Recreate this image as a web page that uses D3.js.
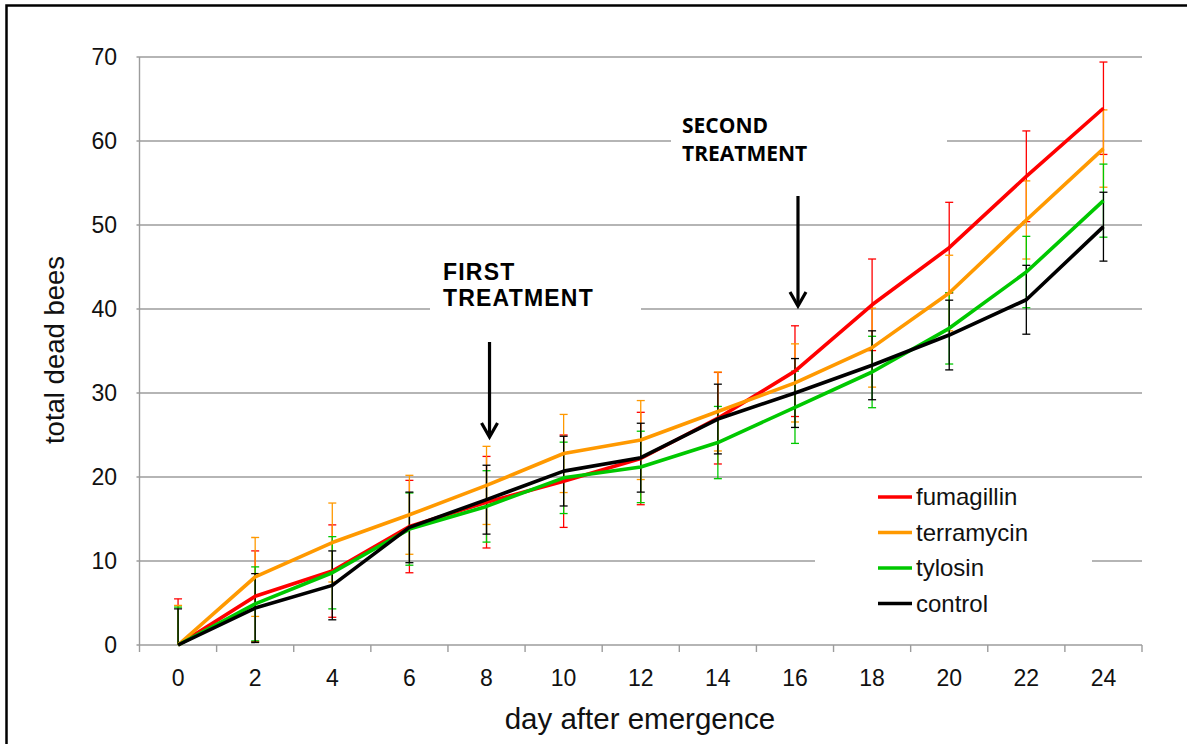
<!DOCTYPE html>
<html>
<head>
<meta charset="utf-8">
<script src="https://cdn.jsdelivr.net/npm/d3@7.9.0/dist/d3.min.js"></script>
<style>
  body { margin: 0; background: #fff; }
  svg { display: block; font-family: "Liberation Sans", Arial, sans-serif; }
</style>
</head>
<body>
<svg id="chart" width="1187" height="744"></svg>
<script>
// data
const days = [0, 2, 4, 6, 8, 10, 12, 14, 16, 18, 20, 22, 24];
const fumagillin = [0, 5.8, 8.8, 14.1, 17.0, 19.5, 22.2, 27.0, 32.6, 40.5, 47.3, 55.8, 63.9];
const terramycin = [0, 8.1, 12.2, 15.5, 19.0, 22.8, 24.4, 27.8, 31.2, 35.4, 41.9, 50.6, 59.1];
const tylosin = [0, 4.9, 8.6, 13.8, 16.5, 19.9, 21.2, 24.1, 28.3, 32.5, 37.7, 44.4, 52.9];
const control = [0, 4.4, 7.1, 14.0, 17.3, 20.7, 22.3, 26.9, 30.0, 33.3, 36.9, 41.1, 49.8];
const fumagillinErr = [5.5, 5.4, 5.5, 5.5, 5.45, 5.5, 5.5, 5.45, 5.4, 5.45, 5.4, 5.4, 5.5];
const terramycinErr = [4.7, 4.7, 4.7, 4.7, 4.65, 4.65, 4.7, 4.7, 4.65, 4.7, 4.5, 4.65, 4.6];
const tylosinErr = [4.5, 4.4, 4.3, 4.3, 4.25, 4.25, 4.25, 4.3, 4.3, 4.25, 4.25, 4.25, 4.35];
const controlErr = [4.3, 4.1, 4.1, 4.2, 4.1, 4.15, 4.1, 4.15, 4.1, 4.1, 4.15, 4.1, 4.1];
const yTicks = [0, 10, 20, 30, 40, 50, 60, 70];

const series = [
  { name: 'fumagillin', values: fumagillin, err: fumagillinErr, color: '#ff0000' },
  { name: 'terramycin', values: terramycin, err: terramycinErr, color: '#ff9900' },
  { name: 'tylosin', values: tylosin, err: tylosinErr, color: '#00c800' },
  { name: 'control', values: control, err: controlErr, color: '#000000' },
];

const svg = d3.select('#chart');
const plotLeft = 139.5, plotRight = 1142, plotTop = 57, plotBottom = 645;

const x = d3.scaleBand().domain(days).range([plotLeft, plotRight]).padding(0);
const cx = (d) => x(d) + x.bandwidth() / 2;
const y = d3.scaleLinear().domain([0, 70]).range([plotBottom, plotTop]);

// outer frame
svg.append('rect')
  .attr('x', 6.5).attr('y', 5.5)
  .attr('width', 1300).attr('height', 900)
  .attr('fill', 'none').attr('stroke', '#000').attr('stroke-width', 2.5);

// gridlines
svg.append('g')
  .selectAll('line')
  .data(yTicks.filter((t) => t > 0))
  .join('line')
  .attr('x1', plotLeft - 3).attr('x2', plotRight)
  .attr('y1', (d) => y(d)).attr('y2', (d) => y(d))
  .attr('stroke', '#9c9c9c').attr('stroke-width', 1.4);

// axes lines
svg.append('line')
  .attr('x1', plotLeft).attr('x2', plotLeft).attr('y1', plotTop).attr('y2', plotBottom)
  .attr('stroke', '#9c9c9c').attr('stroke-width', 1.4);
svg.append('line')
  .attr('x1', plotLeft - 3).attr('x2', plotRight).attr('y1', plotBottom).attr('y2', plotBottom)
  .attr('stroke', '#9c9c9c').attr('stroke-width', 1.4);

// x tick marks at category boundaries
const edges = days.map((d) => x(d)).concat([plotRight]);
svg.append('g')
  .selectAll('line')
  .data(edges)
  .join('line')
  .attr('x1', (d) => d).attr('x2', (d) => d)
  .attr('y1', plotBottom).attr('y2', plotBottom + 7)
  .attr('stroke', '#9c9c9c').attr('stroke-width', 1.4);

// tick labels
svg.append('g')
  .selectAll('text')
  .data(yTicks)
  .join('text')
  .attr('x', 117).attr('y', (d) => y(d) + 8)
  .attr('text-anchor', 'end')
  .attr('font-size', 23)
  .attr('fill', '#111')
  .text((d) => d);

svg.append('g')
  .selectAll('text')
  .data(days)
  .join('text')
  .attr('x', (d) => cx(d)).attr('y', 686)
  .attr('text-anchor', 'middle')
  .attr('font-size', 23)
  .attr('fill', '#111')
  .text((d) => d);

// axis titles
svg.append('text')
  .attr('x', 640).attr('y', 729)
  .attr('text-anchor', 'middle')
  .attr('font-size', 29.5)
  .attr('fill', '#111')
  .text('day after emergence');

svg.append('text')
  .attr('transform', 'translate(64,350) rotate(-90)')
  .attr('text-anchor', 'middle')
  .attr('font-size', 27.5)
  .attr('fill', '#111')
  .text('total dead bees');

// white label boxes that hide gridlines
svg.append('rect').attr('x', 430).attr('y', 255).attr('width', 211).attr('height', 62).attr('fill', '#fff');
svg.append('rect').attr('x', 671).attr('y', 110).attr('width', 276).attr('height', 62).attr('fill', '#fff');
svg.append('rect').attr('x', 815).attr('y', 482).attr('width', 277).attr('height', 150).attr('fill', '#fff');

// clip for error bars
svg.append('clipPath').attr('id', 'plotclip')
  .append('rect').attr('x', plotLeft).attr('y', 0).attr('width', plotRight - plotLeft).attr('height', plotBottom);

const errG = svg.append('g').attr('clip-path', 'url(#plotclip)');
series.forEach((s) => {
  const pts = days.map((d, i) => ({ d, v: s.values[i], e: s.err[i] }));
  const g = errG.append('g').attr('stroke', s.color).attr('stroke-width', 1.3);
  g.selectAll('line.v').data(pts).join('line').attr('class', 'v')
    .attr('x1', (p) => cx(p.d)).attr('x2', (p) => cx(p.d))
    .attr('y1', (p) => y(p.v - p.e)).attr('y2', (p) => y(p.v + p.e));
  g.selectAll('line.t').data(pts).join('line').attr('class', 't')
    .attr('x1', (p) => cx(p.d) - 4).attr('x2', (p) => cx(p.d) + 4)
    .attr('y1', (p) => y(p.v + p.e)).attr('y2', (p) => y(p.v + p.e));
  g.selectAll('line.b').data(pts).join('line').attr('class', 'b')
    .attr('x1', (p) => cx(p.d) - 4).attr('x2', (p) => cx(p.d) + 4)
    .attr('y1', (p) => y(p.v - p.e)).attr('y2', (p) => y(p.v - p.e));
});

// series lines
const line = d3.line().x((p) => cx(p[0])).y((p) => y(p[1]));
series.forEach((s) => {
  svg.append('path')
    .datum(days.map((d, i) => [d, s.values[i]]))
    .attr('d', line)
    .attr('fill', 'none')
    .attr('stroke', s.color)
    .attr('stroke-width', 3.6)
    .attr('stroke-linejoin', 'round');
});

// annotations
const first = svg.append('text')
  .attr('font-size', 23).attr('font-weight', 'bold')
  .attr('letter-spacing', 1.2).attr('fill', '#000');
first.append('tspan').attr('x', 443).attr('y', 280).text('FIRST');
first.append('tspan').attr('x', 443).attr('y', 306).text('TREATMENT');

const second = svg.append('text')
  .attr('font-family', '"Open Sans", sans-serif')
  .attr('font-size', 21).attr('font-weight', 'bold').attr('fill', '#000');
second.append('tspan').attr('x', 682).attr('y', 133).text('SECOND');
second.append('tspan').attr('x', 682).attr('y', 161).text('TREATMENT');

function arrow(day, y0, y1) {
  const ax = cx(day) + 3;
  svg.append('line').attr('x1', ax).attr('x2', ax).attr('y1', y0).attr('y2', y1 - 2)
    .attr('stroke', '#000').attr('stroke-width', 3.2);
  svg.append('path')
    .attr('d', `M${ax - 8},${y1 - 14}L${ax},${y1}L${ax + 8},${y1 - 14}`)
    .attr('fill', 'none').attr('stroke', '#000').attr('stroke-width', 3.2);
}
arrow(8, 342, 437);
arrow(16, 196, 306);

// legend
const legend = svg.append('g');
series.forEach((s, i) => {
  const ly = 497 + i * 35.5;
  legend.append('line')
    .attr('x1', 878).attr('x2', 912).attr('y1', ly).attr('y2', ly)
    .attr('stroke', s.color).attr('stroke-width', 3.6);
  legend.append('text')
    .attr('x', 916).attr('y', ly + 8)
    .attr('font-size', 24).attr('fill', '#111')
    .text(s.name);
});
</script>
</body>
</html>
